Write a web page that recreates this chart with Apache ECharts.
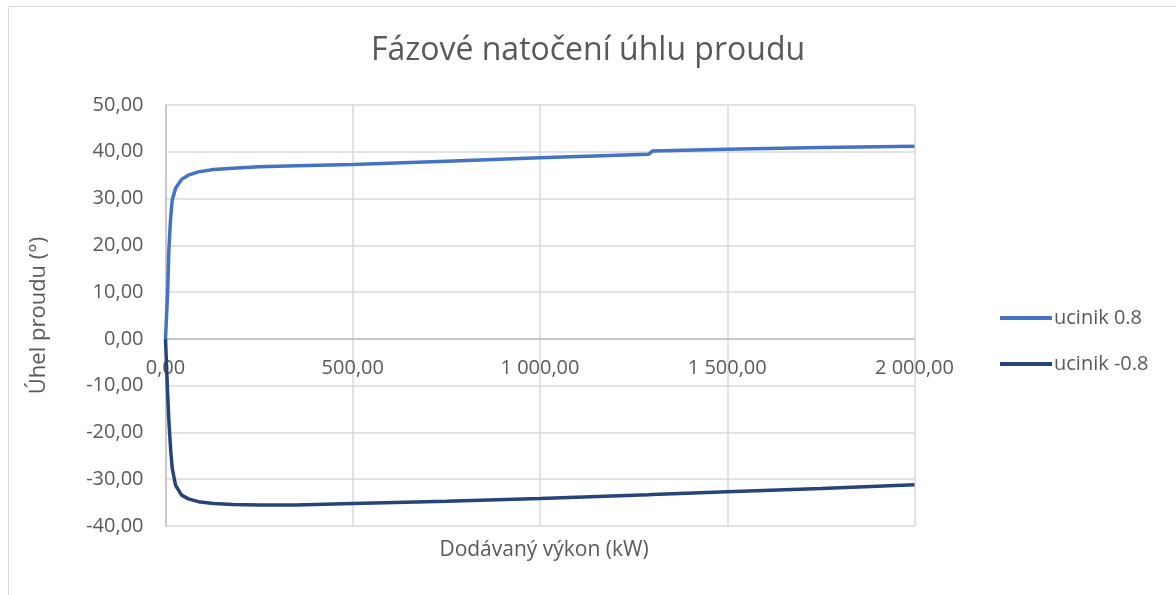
<!DOCTYPE html>
<html>
<head>
<meta charset="utf-8">
<script src="https://cdn.jsdelivr.net/npm/echarts@6/dist/echarts.min.js"></script>
<style>
html,body{margin:0;padding:0;background:#fff;}
#chart{width:1176px;height:595px;}
</style>
</head>
<body>
<div id="chart"></div>
<script>
const chartTitle = 'Fázové natočení úhlu proudu';
const xAxisName = 'Dodávaný výkon (kW)';
const yAxisName = 'Úhel proudu (°)';
const seriesNames = ['ucinik 0.8', 'ucinik -0.8'];
const powerKW = [0, 6, 9, 12, 14, 18, 27, 43, 61, 88, 128, 180, 250, 350, 500, 750, 1000, 1290, 1300, 1500, 1750, 2000];
const anglePos = [0, 10.5, 19.0, 23.5, 26.1, 29.7, 32.2, 34.1, 35.0, 35.7, 36.2, 36.5, 36.8, 37.0, 37.3, 38.0, 38.7, 39.45, 40.15, 40.55, 40.9, 41.2];
const angleNeg = [0, -12.2, -17.5, -21.4, -24.0, -27.7, -31.3, -33.4, -34.2, -34.8, -35.2, -35.4, -35.5, -35.5, -35.2, -34.7, -34.1, -33.3, -33.25, -32.7, -32.0, -31.2];

function fmt(v) {
  const s = Math.abs(v).toFixed(2).split('.');
  const int = s[0].replace(/\B(?=(\d{3})+(?!\d))/g, ' ');
  return (v < 0 ? '-' : '') + int + ',' + s[1];
}

const FONT = '"Open Sans", sans-serif';
const TXT = '#595959';
const GRID_TOP = 105, GRID_BOTTOM = 69, Y_MIN = -40, Y_MAX = 50;
const plotH = 595 - GRID_TOP - GRID_BOTTOM;
const zeroOffset = -plotH * (0 - Y_MIN) / (Y_MAX - Y_MIN);

const chart = echarts.init(document.getElementById('chart'), null, {renderer: 'canvas'});
chart.setOption({
  backgroundColor: '#fff',
  animation: false,
  title: [
    {text: chartTitle, left: 'center', top: 30,
     textStyle: {fontFamily: FONT, fontSize: 32, fontWeight: 'normal', color: TXT}},
    {text: xAxisName, left: 539, textAlign: 'center', top: 535,
     textStyle: {fontFamily: FONT, fontSize: 21, fontWeight: 'normal', color: TXT}}
  ],
  graphic: [{type: 'rect', shape: {x: 8.5, y: 6.5, width: 1300, height: 700},
    style: {fill: 'none', stroke: '#d9d9d9', lineWidth: 1}, silent: true, z: -1}],
  legend: {
    orient: 'vertical', left: 995, top: 303,
    itemWidth: 52, itemHeight: 4, itemGap: 26, icon: 'rect',
    textStyle: {fontFamily: FONT, fontSize: 20, color: TXT, lineHeight: 20, padding: [0, 0, 0, -3]},
    data: seriesNames
  },
  grid: {left: 165.5, right: 261.5, top: GRID_TOP, bottom: GRID_BOTTOM, containLabel: false},
  xAxis: {
    type: 'value', min: 0, max: 2000, interval: 500,
    offset: zeroOffset,
    axisLine: {show: true, onZero: false, lineStyle: {color: '#bfbfbf', width: 1.5}},
    axisTick: {show: false},
    axisLabel: {formatter: fmt, fontFamily: FONT, fontSize: 20, color: TXT, margin: 19},
    splitLine: {show: true, lineStyle: {color: '#d9d9d9', width: 1.5}}
  },
  yAxis: {
    type: 'value', min: Y_MIN, max: Y_MAX, interval: 10,
    name: yAxisName, nameLocation: 'middle', nameGap: 116,
    nameTextStyle: {fontFamily: FONT, fontSize: 22, color: TXT},
    axisLine: {show: true, lineStyle: {color: '#bfbfbf', width: 1.5}},
    axisTick: {show: false},
    axisLabel: {formatter: fmt, fontFamily: FONT, fontSize: 20, color: TXT, margin: 22},
    splitLine: {show: true, lineStyle: {color: '#d9d9d9', width: 1.5}}
  },
  series: [
    {name: seriesNames[0], type: 'line', showSymbol: false, symbol: 'none',
     data: powerKW.map((x, i) => [x, anglePos[i]]),
     lineStyle: {color: '#4472C4', width: 3.5}, itemStyle: {color: '#4472C4'}},
    {name: seriesNames[1], type: 'line', showSymbol: false, symbol: 'none',
     data: powerKW.map((x, i) => [x, angleNeg[i]]),
     lineStyle: {color: '#264478', width: 3.5}, itemStyle: {color: '#264478'}}
  ]
});
</script>
</body>
</html>
